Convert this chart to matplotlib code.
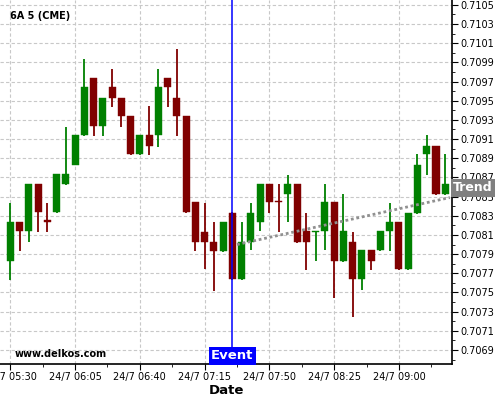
import numpy as np
import matplotlib
matplotlib.use("Agg")
import matplotlib.pyplot as plt
import matplotlib.transforms as mtransforms
from matplotlib.ticker import MultipleLocator, FormatStrFormatter

# 5-minute candles, 24/7 05:30 .. 09:25
opens = [0.70783, 0.70824, 0.70814, 0.70863, 0.70825, 0.70834, 0.70863, 0.70883,
         0.70914, 0.70974, 0.70924, 0.70964, 0.70953, 0.70934, 0.70894, 0.70914,
         0.70914, 0.70974, 0.70953, 0.70934, 0.70844, 0.70813, 0.70803, 0.70793,
         0.70833, 0.70764, 0.70803, 0.70824, 0.70863, 0.70845, 0.70853, 0.70863,
         0.70814, 0.70813, 0.70814, 0.70844, 0.70783, 0.70803, 0.70764, 0.70794,
         0.70794, 0.70814, 0.70824, 0.70774, 0.70833, 0.70894, 0.70903, 0.70853]
highs = [0.70843, 0.70824, 0.70863, 0.70863, 0.70843, 0.70874, 0.70923, 0.70914,
         0.70993, 0.70974, 0.70953, 0.70983, 0.70953, 0.70934, 0.70914, 0.70944,
         0.70983, 0.70974, 0.71004, 0.70934, 0.70844, 0.70843, 0.70823, 0.70824,
         0.70834, 0.70824, 0.70843, 0.70863, 0.70863, 0.70863, 0.70873, 0.70863,
         0.70833, 0.70814, 0.70863, 0.70844, 0.70853, 0.70813, 0.70794, 0.70794,
         0.70814, 0.70843, 0.70824, 0.70833, 0.70894, 0.70914, 0.70903, 0.70894]
lows = [0.70763, 0.70793, 0.70803, 0.70813, 0.70813, 0.70833, 0.70862, 0.70883,
        0.70913, 0.70913, 0.70913, 0.70943, 0.70923, 0.70893, 0.70893, 0.70893,
        0.70902, 0.70943, 0.70913, 0.70833, 0.70793, 0.70774, 0.70752, 0.70792,
        0.70763, 0.70763, 0.70794, 0.70814, 0.70833, 0.70813, 0.70824, 0.70802,
        0.70773, 0.70783, 0.70794, 0.70744, 0.70782, 0.70724, 0.70753, 0.70773,
        0.70793, 0.70793, 0.70773, 0.70773, 0.70832, 0.70873, 0.70852, 0.70852]
closes = [0.70824, 0.70814, 0.70863, 0.70834, 0.70824, 0.70874, 0.70874, 0.70914,
          0.70964, 0.70924, 0.70953, 0.70953, 0.70934, 0.70894, 0.70914, 0.70903,
          0.70964, 0.70964, 0.70934, 0.70834, 0.70803, 0.70803, 0.70793, 0.70824,
          0.70764, 0.70803, 0.70833, 0.70863, 0.70844, 0.70844, 0.70863, 0.70803,
          0.70803, 0.70814, 0.70844, 0.70783, 0.70814, 0.70764, 0.70794, 0.70783,
          0.70814, 0.70824, 0.70774, 0.70833, 0.70883, 0.70903, 0.70853, 0.70863]

tick_pos = [0, 7, 14, 21, 28, 35, 42]
tick_labels = ["24/7 05:30", "24/7 06:05", "24/7 06:40", "24/7 07:15",
               "24/7 07:50", "24/7 08:25", "24/7 09:00"]

event_idx = 24
trend_x = [24.5, 47.5]
trend_y = [0.70800, 0.70849]
trend_label_y = 0.70859

green = "#008000"
red = "#800000"

x = np.arange(len(opens))
o = np.array(opens)
h = np.array(highs)
l = np.array(lows)
c = np.array(closes)
up = c >= o
cols = np.where(up, green, red)

fig = plt.figure(figsize=(5, 4), dpi=100)
ax = fig.add_axes([0, 0.09, 0.904, 0.91])

ax.grid(True, which="major", color="#c8c8c8", linestyle=(0, (3, 2)), linewidth=0.8)
ax.set_axisbelow(True)

ax.vlines(x, l, h, colors=cols, linewidth=1.3, zorder=2)
bottoms = np.minimum(o, c)
heights = np.maximum(np.abs(c - o), 0.000012)
ax.bar(x, heights, bottom=bottoms, width=0.76, color=cols, edgecolor=cols,
       linewidth=0.3, zorder=3)

# event line
ax.axvline(event_idx, color="#0000ff", linewidth=1.1, zorder=4)
trans = mtransforms.blended_transform_factory(ax.transData, ax.transAxes)
ax.text(event_idx, 0.022, "Event", transform=trans, ha="center", va="center",
        color="white", fontsize=9.5, fontweight="bold", zorder=6,
        bbox=dict(boxstyle="square,pad=0.2", facecolor="#0000ff", edgecolor="none"))

# trend line
ax.plot(trend_x, trend_y, color="#909090", linestyle=(0, (1, 1)), linewidth=2, zorder=4)
trans2 = mtransforms.blended_transform_factory(ax.transAxes, ax.transData)
ax.text(1.002, trend_label_y, "Trend", transform=trans2, ha="left", va="center",
        color="white", fontsize=9, fontweight="bold", zorder=10, clip_on=False,
        bbox=dict(boxstyle="square,pad=0.18", facecolor="#808080", edgecolor="none"))

ax.set_xlim(-1.11, 47.73)
ax.set_ylim(0.706754, 0.710550)

ax.set_xticks(tick_pos)
ax.set_xticklabels(tick_labels)
ax.xaxis.set_minor_locator(MultipleLocator(3.5))
ax.yaxis.tick_right()
ax.yaxis.set_major_locator(MultipleLocator(0.0002, offset=0.0001))
ax.yaxis.set_minor_locator(MultipleLocator(0.0001))
ax.yaxis.set_major_formatter(FormatStrFormatter("%.4f"))
ax.tick_params(axis="both", which="major", labelsize=7, length=4, width=0.8, pad=2)
ax.tick_params(axis="both", which="minor", length=2.5, width=0.6)

for s in ["left", "top"]:
    ax.spines[s].set_visible(False)
ax.spines["right"].set_linewidth(1.2)
ax.spines["bottom"].set_linewidth(1.2)

ax.set_xlabel("Date", fontsize=9.5, fontweight="bold", labelpad=1)

ax.text(0.022, 0.957, "6A 5 (CME)", transform=ax.transAxes, fontsize=7,
        fontweight="bold", va="center", ha="left")
ax.text(0.033, 0.027, "www.delkos.com", transform=ax.transAxes, fontsize=7,
        fontweight="bold", va="center", ha="left", zorder=6)

fig.savefig("out.png", dpi=100)
